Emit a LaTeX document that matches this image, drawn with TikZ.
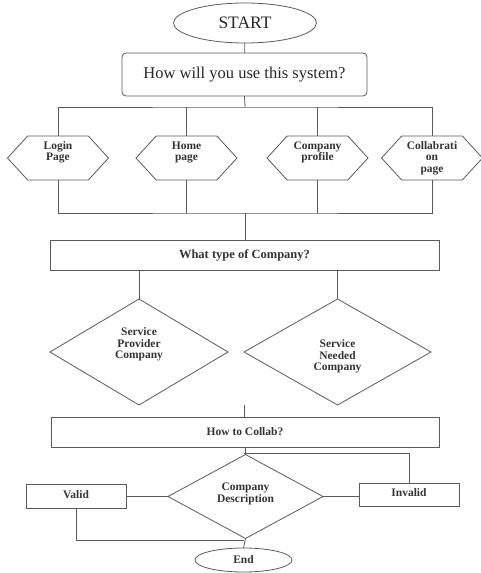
\documentclass[tikz,border=0pt]{standalone}
\usepackage{fontspec}
\setmainfont{Liberation Serif}
\usetikzlibrary{shapes.geometric,shapes.symbols}
\begin{document}
\begin{tikzpicture}[x=1pt,y=-1pt,
  every node/.style={inner sep=0pt, outer sep=0pt},
  ln/.style={draw=black!65, line width=0.8pt},
  bigtxt/.style={font=\fontsize{16.5}{19}\selectfont, text=black!85},
  smalltxt/.style={font=\fontsize{11.5}{11.5}\selectfont\bfseries, text=black!80, align=center},
  hexa/.style={ln, smalltxt, signal, signal to=west and east, signal pointer angle=95,
    minimum width=101pt, minimum height=44pt},
  dia/.style={ln, smalltxt, diamond},
  boxr/.style={ln, smalltxt, rectangle},
  oval/.style={ln, ellipse}
]
\useasboundingbox (0,0) rectangle (481,573);
% start
\node[oval, bigtxt, font=\fontsize{17.5}{20}\selectfont, minimum width=143pt, minimum height=40pt] (start) at (245,23) {START};
\node[ln, bigtxt, rectangle, rounded corners=4pt, minimum width=245pt, minimum height=43pt] (q1) at (244.5,74.5) {How will you use this system?};
% hexagons
\node[hexa, text depth=14pt] (h1) at (58,158) {Login\\Page};
\node[hexa, text depth=14pt] (h2) at (186.5,158) {Home\\page};
\node[hexa, text depth=14pt] (h3) at (317.5,158) {Company\\profile};
\node[hexa] (h4) at (432,158) {Collabrati\\on\\page};
\coordinate (b1) at (245,107);
\coordinate (b2) at (245,213);
% second question
\node[boxr, font=\fontsize{12.5}{13}\selectfont\bfseries, minimum width=389pt, minimum height=30pt] (q2) at (244.5,255) {What type of Company?};
% diamonds
\node[dia, minimum width=178pt, minimum height=106pt, text depth=17pt] (d1) at (139,352) {Service\\Provider\\Company};
\node[dia, minimum width=187pt, minimum height=106pt, text height=40pt] (d2) at (337.5,352) {Service\\Needed\\Company};
\coordinate (c3) at (244,405);
% third question
\node[boxr, minimum width=388pt, minimum height=30pt] (q3) at (245,432) {How to Collab?};
\node[dia, minimum width=155pt, minimum height=75pt, text depth=8pt] (d3) at (245.5,496.5) {Company\\Description};
\node[boxr, minimum width=100pt, minimum height=24pt, text depth=4pt] (valid) at (76,496.5) {Valid};
\node[boxr, minimum width=100pt, minimum height=23pt, text depth=4pt] (invalid) at (409,495) {Invalid};
\node[oval, smalltxt, minimum width=97pt, minimum height=24pt] (end) at (243.5,560) {End};
\coordinate (j) at (244,453);
\coordinate (j2) at (244,540);
% connectors
\draw[ln] (start) -- (q1);
\draw[ln] (q1.south) -- (b1);
\draw[ln] (h1.north) |- (b1) -| (h4.north);
\draw[ln] (h2.north) -- (h2.north |- b1);
\draw[ln] (h3.north) -- (h3.north |- b1);
\draw[ln] (h1.south) |- (b2) -| (h4.south);
\draw[ln] (h2.south) -- (h2.south |- b2);
\draw[ln] (h3.south) -- (h3.south |- b2);
\draw[ln] (b2) -- (b2 |- q2.north);
\draw[ln] (d1.north) -- (d1.north |- q2.south);
\draw[ln] (d2.north) -- (d2.north |- q2.south);
\draw[ln] (c3) -- (c3 |- q3.north);
\draw[ln] (q3.south -| d3.north) -- (d3.north);
\draw[ln] (j) -| (invalid.north);
\draw[ln] (valid.east) -- (d3.west);
\draw[ln] (d3.east) -- (d3.east -| invalid.west);
\draw[ln] (valid.south) |- (j2);
\draw[ln] (d3.south) -- (end.north);
\end{tikzpicture}
\end{document}
